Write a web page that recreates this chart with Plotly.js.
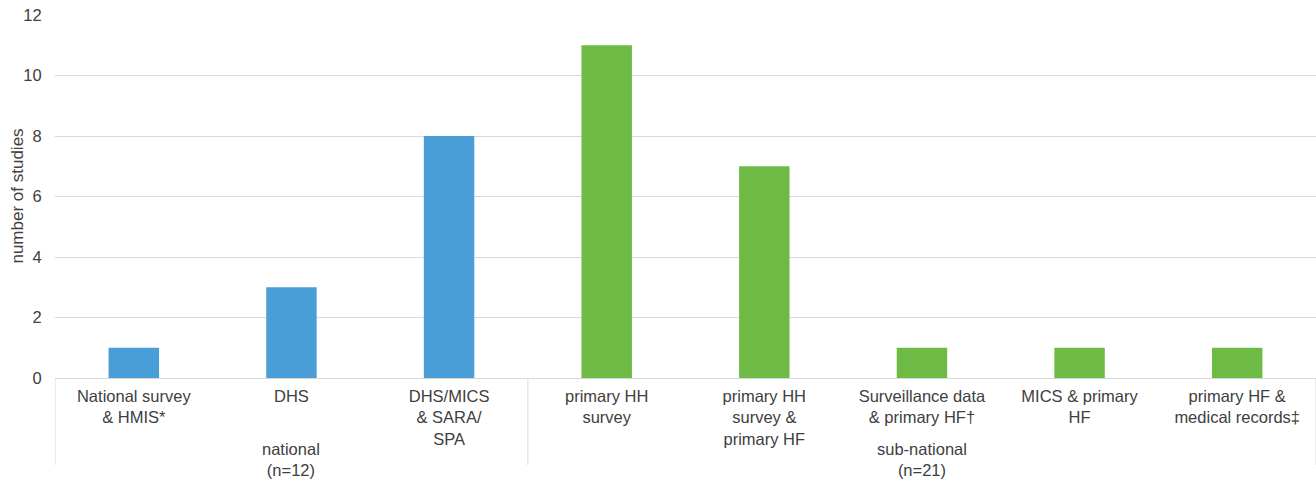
<!DOCTYPE html>
<html>
<head>
<meta charset="utf-8">
<script src="https://cdn.plot.ly/plotly-3.0.1.min.js"></script>
<style>html,body{margin:0;padding:0;background:#fff;}#chart{width:1316px;height:481px;}</style>
</head>
<body>
<div id="chart"></div>
<script>
const groupNames = ["national<br>(n=12)", "sub-national<br>(n=21)"];
const groupSizes = [3, 5];
const categories = ["National survey<br>& HMIS*","DHS","DHS/MICS<br>& SARA/<br>SPA",
  "primary HH<br>survey","primary HH<br>survey &<br>primary HF","Surveillance data<br>& primary HF†","MICS & primary<br>HF","primary HF &<br>medical records‡"];
const values = [1,3,8,11,7,1,1,1];
const groupColors = ["#4a9ed8", "#6dba45"];
const yTitle = "number of studies";

// build per-bar colours and group geometry from the group arrays
const barColors = [];
groupSizes.forEach((n, g) => { for (let i = 0; i < n; i++) barColors.push(groupColors[g]); });
const boundaries = [-0.5];
let acc = 0;
groupSizes.forEach(n => { acc += n; boundaries.push(acc - 0.5); });

const shapes = boundaries.map(b => ({
  type: "line", xref: "x", yref: "paper", x0: b, x1: b, y0: 0, y1: -0.24,
  line: {color: "#d9d9d9", width: 1}
}));
const annotations = groupNames.map((name, g) => ({
  xref: "x", yref: "paper", x: (boundaries[g] + boundaries[g + 1]) / 2, y: -0.2245,
  xanchor: "center", yanchor: "middle", showarrow: false, text: name,
  font: {size: 16.5, color: "#404040"}
}));
annotations.push({
  xref: "paper", yref: "paper", x: -0.0301, y: 0.5, xanchor: "center", yanchor: "middle",
  textangle: -90, showarrow: false, text: yTitle,
  font: {size: 17, color: "#404040"}
});

const data = [{
  type: "bar",
  x: categories,
  y: values,
  marker: {color: barColors},
  hoverinfo: "none"
}];
const layout = {
  width: 1316, height: 481,
  margin: {l: 55, r: 0, t: 15, b: 103},
  paper_bgcolor: "#fff", plot_bgcolor: "#fff",
  font: {family: "Liberation Sans, Arial, sans-serif", size: 16.5, color: "#404040"},
  bargap: 0.68,
  showlegend: false,
  shapes: shapes,
  annotations: annotations,
  xaxis: {
    type: "category",
    range: [-0.5, categories.length - 0.5],
    showline: true, linecolor: "#d9d9d9", linewidth: 1,
    showgrid: false,
    tickfont: {size: 16.5, color: "#404040"},
    ticks: "",
    ticklabelstandoff: 3
  },
  yaxis: {
    range: [0, 12], dtick: 2,
    showgrid: true, gridcolor: "#d9d9d9", gridwidth: 1,
    zeroline: false, showline: false,
    tickfont: {size: 16.5, color: "#404040"},
    ticks: "outside", ticklen: 9, tickcolor: "rgba(0,0,0,0)"
  }
};
Plotly.newPlot("chart", data, layout, {displayModeBar: false, staticPlot: true});
</script>
</body>
</html>
